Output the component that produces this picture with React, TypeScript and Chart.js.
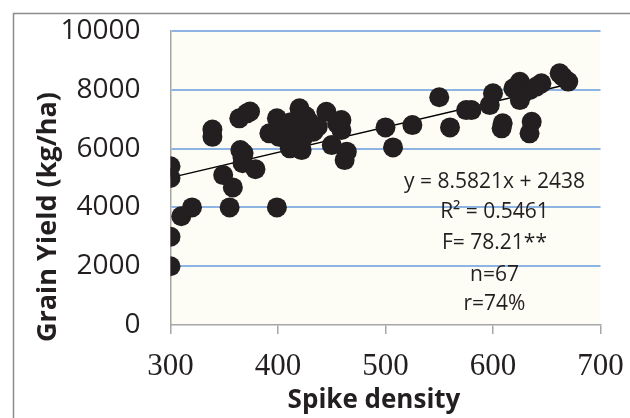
import React, { useEffect, useRef } from "react";
import { Chart, registerables } from "chart.js";

Chart.register(...registerables);

const spikeDensity = [
  300, 300, 300, 300, 310, 320, 339, 339, 349, 355, 358, 364, 371, 374, 365, 367, 367, 379, 399, 392,
  399, 408, 420, 411, 422, 429, 433, 445, 459, 459, 450, 462, 464, 414, 423, 437, 404, 417, 401, 410,
  500, 507, 525, 550, 560, 575, 580, 600, 597, 609, 608, 625, 619, 625, 634, 645, 636, 634, 665, 670,
  662, 628, 455, 426, 412, 368, 640,
];
const grainYield = [
  2000, 3000, 5000, 5400, 3700, 4000, 6650, 6400, 5100, 4000, 4680, 7030, 7200, 7260, 5950, 5700, 5500, 5300, 4000, 6520,
  7030, 6800, 7370, 6010, 5950, 6915, 6575, 7255, 6970, 6630, 6120, 5610, 5895, 6460, 6350, 6745, 6630, 6575, 6400, 6200,
  6720, 6040, 6800, 7745, 6720, 7310, 7310, 7880, 7480, 6860, 6690, 8275, 8050, 7650, 7990, 8220, 6915, 6520, 8445, 8280,
  8560, 7880, 6850, 7100, 6900, 5850, 8100,
];
const slope = 8.5821;
const intercept = 2438;
const trendRange = [300, 670];
const statsLines = ["y = 8.5821x + 2438", "R² = 0.5461", "F= 78.21**", "n=67", "r=74%"];
const xTitle = "Spike density";
const yTitle = "Grain Yield (kg/ha)";

const INK = "#231f20";
const AXIS = "#a6a6a6";

const decorPlugin = {
  id: "decor",
  beforeDraw(chart: any) {
    const { ctx, chartArea } = chart;
    ctx.save();
    ctx.fillStyle = "#ffffff";
    ctx.fillRect(0, 0, chart.width, chart.height);
    ctx.fillStyle = "#fdfdf5";
    ctx.fillRect(chartArea.left, chartArea.top, chartArea.right - chartArea.left, chartArea.bottom - chartArea.top);
    ctx.restore();
  },
  afterDraw(chart: any) {
    const { ctx } = chart;
    ctx.save();
    ctx.strokeStyle = "#8c8c8c";
    ctx.lineWidth = 1.5;
    ctx.strokeRect(13.5, 13.5, 640, 430);
    ctx.fillStyle = INK;
    ctx.textAlign = "center";
    ctx.textBaseline = "middle";
    ctx.font = "bold 26px 'Open Sans'";
    ctx.fillText(xTitle, 374, 401);
    ctx.translate(48, 217);
    ctx.rotate(-Math.PI / 2);
    ctx.font = "bold 27px 'Open Sans'";
    ctx.fillText(yTitle, 0, 0);
    ctx.restore();
  },
  afterDatasetsDraw(chart: any) {
    const { ctx } = chart;
    ctx.save();
    ctx.fillStyle = INK;
    ctx.font = "21px 'Open Sans'";
    ctx.textAlign = "center";
    ctx.textBaseline = "middle";
    const cx = 494.5;
    const ys = [182, 212.5, 243.5, 275, 304.5];
    statsLines.forEach((t, i) => ctx.fillText(t, cx, ys[i]));
    ctx.restore();
  },
};

export default function App() {
  const ref = useRef<HTMLCanvasElement>(null);
  useEffect(() => {
    const points = spikeDensity.map((x, i) => ({ x, y: grainYield[i] }));
    const trend = trendRange.map((x) => ({ x, y: slope * x + intercept }));
    const chart = new Chart(ref.current!, {
      type: "scatter",
      data: {
        datasets: [
          {
            data: points,
            backgroundColor: INK,
            borderWidth: 0,
            pointRadius: 10,
            pointHoverRadius: 10,
          },
          {
            type: "line",
            data: trend,
            borderColor: "#000000",
            borderWidth: 1.5,
            pointRadius: 0,
            fill: false,
          } as any,
        ],
      },
      options: {
        animation: false,
        responsive: false,
        events: [],
        layout: { padding: { top: 31, right: 29.5, bottom: 0, left: 0 } },
        plugins: { legend: { display: false }, tooltip: { enabled: false } },
        scales: {
          x: {
            type: "linear",
            min: 300,
            max: 700,
            afterFit: (s: any) => {
              s.height = 93;
              s.paddingLeft = 0;
              s.paddingRight = 0;
            },
            ticks: {
              stepSize: 100,
              color: INK,
              font: { family: "Liberation Serif, Times New Roman, serif", size: 31 },
              padding: 14,
              callback: (v: any) => String(v),
            },
            grid: {
              drawOnChartArea: false,
              drawTicks: true,
              tickLength: 9,
              color: AXIS,
              lineWidth: 1.5,
            },
            border: { display: true, color: AXIS, width: 1.5 },
            title: { display: false, text: xTitle },
          },
          y: {
            min: 0,
            max: 10000,
            afterFit: (s: any) => {
              s.width = 170.5;
            },
            ticks: {
              stepSize: 2000,
              color: INK,
              font: { family: "'Open Sans'", size: 28 },
              padding: 0,
              callback: (v: any) => String(v),
            },
            grid: {
              drawTicks: true,
              tickLength: 30,
              tickColor: "rgba(0,0,0,0)",
              lineWidth: 2,
              color: (c: any) => (c.tick && c.tick.value === 0 ? "rgba(0,0,0,0)" : "#8eb4e3"),
            },
            border: { display: true, color: AXIS, width: 1.5 },
            title: { display: false, text: yTitle },
          },
        },
      },
      plugins: [decorPlugin],
    });
    return () => chart.destroy();
  }, []);
  return (
    <div style={{ position: "fixed", left: 0, top: 0, width: 630, height: 418, background: "#fff" }}>
      <canvas ref={ref} width={630} height={418} style={{ display: "block" }} />
    </div>
  );
}
